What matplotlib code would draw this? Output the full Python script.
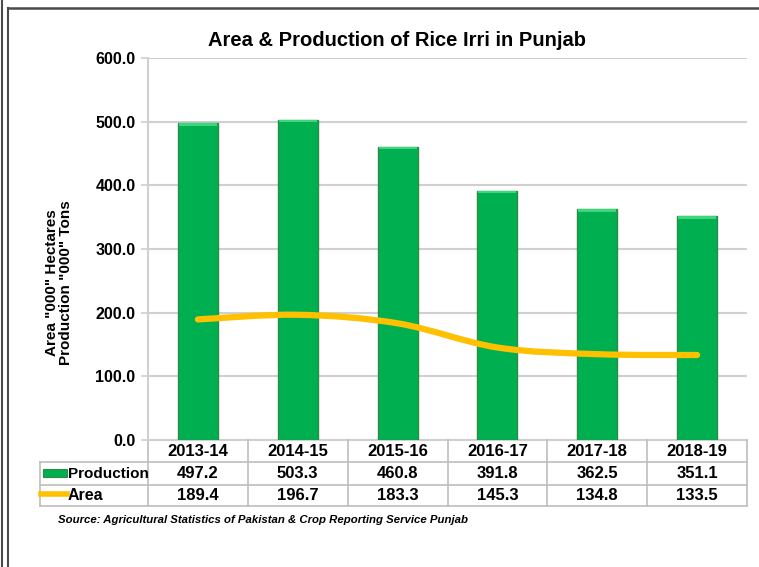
import matplotlib.pyplot as plt
import matplotlib.transforms as mtransforms
from matplotlib.path import Path
from matplotlib.patches import PathPatch, Rectangle
from matplotlib.lines import Line2D
import numpy as np

years = ["2013-14", "2014-15", "2015-16", "2016-17", "2017-18", "2018-19"]
production = [497.2, 503.3, 460.8, 391.8, 362.5, 351.1]
area = [189.4, 196.7, 183.3, 145.3, 134.8, 133.5]

W, H = 759, 567
plt.rcParams['font.family'] = ['Liberation Sans', 'DejaVu Sans']
plt.rcParams['font.weight'] = 'bold'

fig = plt.figure(figsize=(W / 100, H / 100), dpi=100)

def fy(py):
    # pixel row -> figure fraction
    return 1 - py / H

ax = fig.add_axes([148 / W, fy(440), (747 - 148) / W, (440 - 58) / H])

x = np.arange(len(years))
green = '#00B050'
yellow = '#FFC000'
grid_c = '#D0D0D0'

ax.bar(x, production, width=0.4, color=green, edgecolor='#2E8B47', linewidth=1, zorder=3)
# lighter cap on each bar
for xi, v in zip(x, production):
    ax.add_patch(Rectangle((xi - 0.19, v - 4), 0.38, 4, color='#3DD67A', lw=0, zorder=4))

# smoothed line through the area values (Catmull-Rom as cubic beziers)
pts = np.column_stack([x, area]).astype(float)
verts = [tuple(pts[0])]
codes = [Path.MOVETO]
n = len(pts)
for i in range(n - 1):
    p0 = pts[max(i - 1, 0)]
    p1 = pts[i]
    p2 = pts[i + 1]
    p3 = pts[min(i + 2, n - 1)]
    c1 = p1 + (p2 - p0) / 6
    c2 = p2 - (p3 - p1) / 6
    verts += [tuple(c1), tuple(c2), tuple(p2)]
    codes += [Path.CURVE4] * 3
ax.add_patch(PathPatch(Path(verts, codes), fill=False, edgecolor=yellow, lw=4.5,
                       capstyle='round', zorder=5))

ax.set_xlim(-0.5, len(years) - 0.5)
ax.set_ylim(0, 600)
ax.set_yticks(np.arange(0, 601, 100))
ax.set_yticklabels([f"{v:.1f}" for v in np.arange(0, 601, 100)], fontsize=11.5, fontweight='bold')
ax.set_xticks([])
ax.grid(axis='y', color=grid_c, lw=1.5, zorder=0)
for s in ['top', 'right', 'bottom']:
    ax.spines[s].set_visible(False)
ax.spines['left'].set_color(grid_c)
ax.spines['left'].set_linewidth(1.5)
ax.tick_params(axis='y', length=5, color=grid_c, width=1.2, pad=4)

fig.text(59 / W, fy(283), 'Area "000" Hectares\nProduction "000" Tons', rotation=90,
         ha='center', va='center', fontsize=11, fontweight='bold', linespacing=1.0)

fig.text(397 / W, fy(40), 'Area & Production of Rice Irri in Punjab',
         ha='center', va='center', fontsize=14.5, fontweight='bold')

# data table under the chart
tr = mtransforms.blended_transform_factory(ax.transData, fig.transFigure)
tline = '#BDBDBD'
rows_y = [440, 462, 485, 506]
left_frac = 40 / W
ax.plot([-0.5, 5.5], [fy(440)] * 2, transform=tr, color=grid_c, lw=1.5, clip_on=False)
for py in rows_y[1:]:
    fig.add_artist(Line2D([left_frac, 747 / W], [fy(py)] * 2, color=tline, lw=1.2))
for k in range(len(years) + 1):
    xe = k - 0.5
    ax.plot([xe, xe], [fy(440), fy(506)], transform=tr, color=tline, lw=1.2, clip_on=False)
fig.add_artist(Line2D([left_frac] * 2, [fy(462), fy(506)], color=tline, lw=1.2))

for i, yr in enumerate(years):
    ax.text(i, fy(451), yr, transform=tr, ha='center', va='center', fontsize=12, fontweight='bold')
    ax.text(i, fy(473.5), f"{production[i]:.1f}", transform=tr, ha='center', va='center',
            fontsize=12, fontweight='bold')
    ax.text(i, fy(495.5), f"{area[i]:.1f}", transform=tr, ha='center', va='center',
            fontsize=12, fontweight='bold')

# legend keys inside the table
fig.add_artist(Rectangle((43 / W, fy(477)), 24 / W, 8 / H, transform=fig.transFigure,
                         facecolor=green, edgecolor='#2E8B47', lw=0.8))
fig.add_artist(Line2D([41 / W, 67 / W], [fy(494)] * 2, color=yellow, lw=4))
fig.text(68 / W, fy(473.5), 'Production', ha='left', va='center', fontsize=11, fontweight='bold')
fig.text(68 / W, fy(495.5), 'Area', ha='left', va='center', fontsize=11.5, fontweight='bold')

fig.text(58 / W, fy(520), 'Source: Agricultural Statistics of Pakistan & Crop Reporting Service Punjab',
         ha='left', va='center', fontsize=8.2, fontweight='bold', style='italic')

# outer frame
frame = '#4A4A4A'
fig.add_artist(Line2D([1.5 / W] * 2, [0, 1], color=frame, lw=1.5))
fig.add_artist(Line2D([7.5 / W] * 2, [0, fy(8)], color=frame, lw=1.5))
fig.add_artist(Line2D([7.5 / W, 1], [fy(8)] * 2, color=frame, lw=1.8))

fig.savefig('out.png', dpi=100)
